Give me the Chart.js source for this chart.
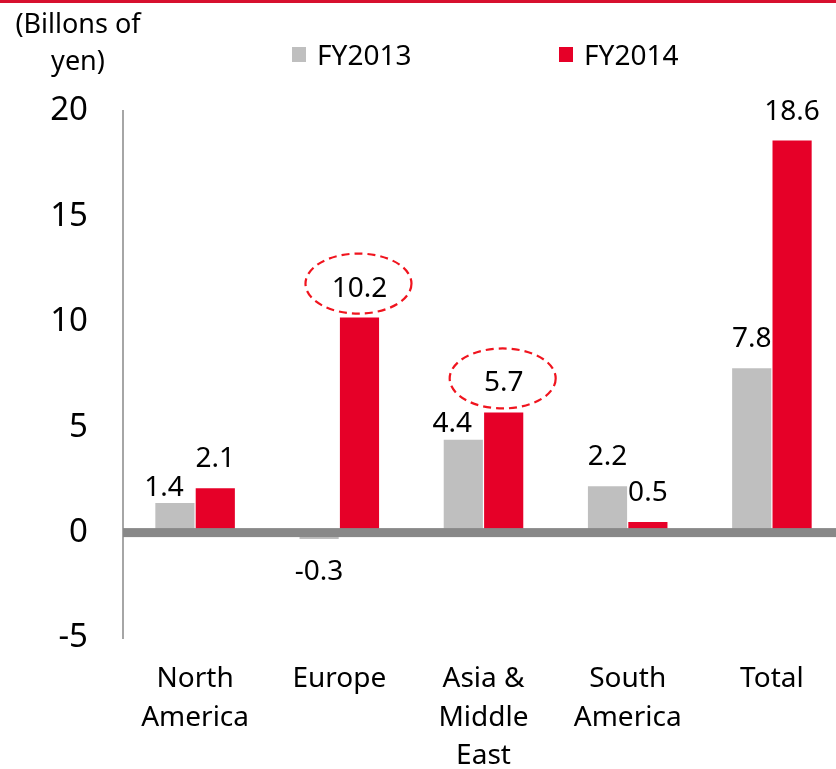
<!DOCTYPE html>
<html>
<head>
<meta charset="utf-8">
<script src="https://cdn.jsdelivr.net/npm/chart.js@4.4.0/dist/chart.umd.min.js"></script>
<style>
html,body{margin:0;padding:0;background:#fff;overflow:hidden;}
#wrap{position:relative;width:848px;height:769px;}
</style>
</head>
<body>
<div id="wrap"><canvas id="grafica" width="848" height="769"></canvas></div>
<script>
const regiones = [["North","America"],["Europe"],["Asia &","Middle","East"],["South","America"],["Total"]];
const series = ["FY2013","FY2014"];
const fy2013 = [1.4,-0.3,4.4,2.2,7.8];
const fy2014 = [2.1,10.2,5.7,0.5,18.6];
const ticksY = [-5,0,5,10,15,20];
const tituloY = ["(Billons of","yen)"];
const destacados = [1,2]; // indices de FY2014 con circulo punteado

const GRIS = "#BFBFBF";
const ROJO = "#E60028";
const FUENTE = "'Noto Sans', sans-serif";

// ajustes de posicion de algunas etiquetas (como en el original)
const ajustes = { "0-0": {dx:-11, gap:7}, "0-2": {dx:-11, gap:8} };

const decoracion = {
    id: "decoracion",
    beforeDraw(chart){
        const ctx = chart.ctx;
        ctx.save();
        ctx.fillStyle = "#D7102E";
        ctx.fillRect(0,0,chart.width,3);

        ctx.fillStyle = "#000";
        ctx.font = "27px " + FUENTE;
        ctx.textAlign = "center";
        ctx.textBaseline = "alphabetic";
        ctx.fillText(tituloY[0],78,33);
        ctx.fillText(tituloY[1],78,70);

        // leyenda
        const pos = [292,559];
        ctx.font = "28px " + FUENTE;
        chart.data.datasets.forEach((ds,i)=>{
            ctx.fillStyle = ds.backgroundColor;
            ctx.fillRect(pos[i],47,14,15);
            ctx.fillStyle = "#000";
            ctx.textAlign = "left";
            ctx.fillText(ds.label,pos[i]+25,65);
        });
        ctx.restore();
    },
    afterDatasetsDraw(chart){
        const ctx = chart.ctx;
        const area = chart.chartArea;
        const y0 = chart.scales.y.getPixelForValue(0);
        ctx.save();
        // linea del cero
        ctx.fillStyle = "#888888";
        ctx.fillRect(area.left, y0-4.5, area.right-area.left, 9);

        ctx.font = "28px " + FUENTE;
        ctx.textAlign = "center";
        ctx.textBaseline = "alphabetic";
        chart.data.datasets.forEach((ds,d)=>{
            chart.getDatasetMeta(d).data.forEach((bar,i)=>{
                const v = ds.data[i];
                const aj = ajustes[d+"-"+i] || {dx:0, gap:21};
                const x = bar.x + aj.dx;
                const base = v < 0 ? bar.y + 41 : bar.y - aj.gap;
                ctx.fillStyle = "#000";
                ctx.fillText(v.toFixed(1), x, base);

                if(d === 1 && destacados.includes(i)){
                    ctx.beginPath();
                    ctx.setLineDash([8,5]);
                    ctx.lineWidth = 2.2;
                    ctx.strokeStyle = "#F0141E";
                    ctx.ellipse(x-1, base-13, 53, 30, 0, 0, Math.PI*2);
                    ctx.stroke();
                    ctx.setLineDash([]);
                }
            });
        });
        ctx.restore();
    }
};

new Chart(document.getElementById("grafica"),{
    type:"bar",
    data:{
        labels: regiones,
        datasets:[
            {label:series[0], data:fy2013, backgroundColor:GRIS, categoryPercentage:0.56, barPercentage:0.97},
            {label:series[1], data:fy2014, backgroundColor:ROJO, categoryPercentage:0.56, barPercentage:0.97}
        ]
    },
    options:{
        responsive:false,
        animation:false,
        layout:{ padding:{top:111, right:4, left:0, bottom:0} },
        plugins:{ legend:{display:false}, tooltip:{enabled:false} },
        scales:{
            x:{
                grid:{display:false, drawTicks:false},
                border:{display:false},
                ticks:{
                    color:"#000",
                    font:{family:FUENTE, size:28, lineHeight:1.375},
                    padding:22,
                    maxRotation:0,
                    autoSkip:false
                },
                afterFit(scale){ scale.height = 131; }
            },
            y:{
                min: ticksY[0],
                max: ticksY[ticksY.length-1],
                grid:{display:false, drawTicks:false},
                border:{display:true, color:"#A6A6A6", width:2},
                ticks:{
                    stepSize: ticksY[1]-ticksY[0],
                    color:"#000",
                    font:{family:FUENTE, size:33},
                    padding:35
                },
                afterFit(scale){ scale.width = 123; }
            }
        }
    },
    plugins:[decoracion]
});
</script>
</body>
</html>
